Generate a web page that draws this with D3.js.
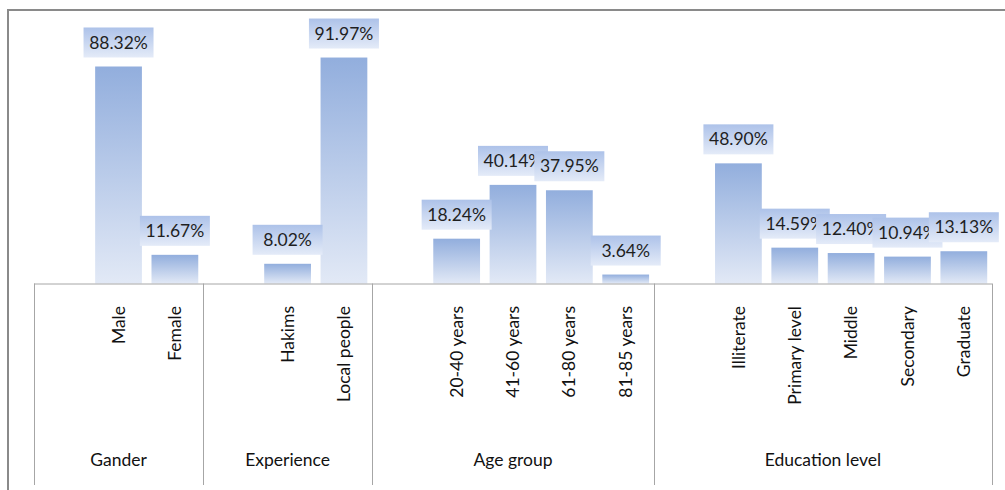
<!DOCTYPE html>
<html>
<head>
<meta charset="utf-8">
<script src="https://cdn.jsdelivr.net/npm/d3@7"></script>
<style>
html,body{margin:0;padding:0;background:#fff;}
svg{display:block;}
text{font-family:Lato,"Noto Sans",sans-serif;}
</style>
</head>
<body>
<svg id="chart" width="1005" height="490"></svg>
<script>
// ---- data ----
const groups = ["Gander", "Experience", "Age group", "Education level"];
const groupSizes = [2, 2, 4, 5];
const categories = ["Male", "Female", "Hakims", "Local people",
  "20-40 years", "41-60 years", "61-80 years", "81-85 years",
  "Illiterate", "Primary level", "Middle", "Secondary", "Graduate"];
const values = [88.32, 11.67, 8.02, 91.97, 18.24, 40.14, 37.95, 3.64,
  48.90, 14.59, 12.40, 10.94, 13.13];

// ---- build band domain: each group starts with an empty slot ----
const slots = [];
const items = [];
let ci = 0;
groups.forEach((g, gi) => {
  slots.push("__blank" + gi);
  for (let k = 0; k < groupSizes[gi]; k++) {
    slots.push(categories[ci]);
    items.push({cat: categories[ci], val: values[ci], group: gi});
    ci++;
  }
});

const svg = d3.select("#chart");
const left = 34, right = 992, base = 283.5, axisBottom = 485;

const x = d3.scaleBand().domain(slots).range([left, right])
  .paddingInner(0.17).paddingOuter(0.085);
const y = d3.scaleLinear().domain([0, 100]).range([base, 37.8]);
const step = x.step();
const slotStart = k => x(k) - x.paddingInner() * step / 2;

// gradients
const defs = svg.append("defs");
const gb = defs.append("linearGradient").attr("id", "barGrad")
  .attr("x1", 0).attr("y1", 0).attr("x2", 0).attr("y2", 1);
gb.append("stop").attr("offset", "0%").attr("stop-color", "#92aedd");
gb.append("stop").attr("offset", "100%").attr("stop-color", "#e2e9f6");
const gl = defs.append("linearGradient").attr("id", "lblGrad")
  .attr("x1", 0).attr("y1", 0).attr("x2", 0).attr("y2", 1);
gl.append("stop").attr("offset", "0%").attr("stop-color", "#adc2e9");
gl.append("stop").attr("offset", "100%").attr("stop-color", "#e4ebf8");

// outer frame (top and left visible)
svg.append("path").attr("d", "M8,490 L8,10 L1005,10")
  .attr("fill", "none").attr("stroke", "#8a8a8a").attr("stroke-width", 2);

// bars
svg.append("g").selectAll("rect").data(items).join("rect")
  .attr("x", d => x(d.cat))
  .attr("y", d => y(d.val))
  .attr("width", x.bandwidth())
  .attr("height", d => y(0) - y(d.val))
  .attr("fill", "url(#barGrad)");

// axis lines
const axis = svg.append("g").attr("stroke", "#a6a6a6").attr("stroke-width", 1).attr("fill", "none");
axis.append("line").attr("x1", left).attr("x2", right).attr("y1", base + 0.5).attr("y2", base + 0.5);
const bounds = groups.map((g, gi) => slotStart("__blank" + gi)).concat([right]);
bounds.forEach(bx => {
  axis.append("line").attr("x1", Math.round(bx) + 0.5).attr("x2", Math.round(bx) + 0.5)
    .attr("y1", base).attr("y2", axisBottom);
});

// data labels (drawn in order so later boxes overlap earlier ones)
const fmt = d3.format(".2f");
const lbl = svg.append("g");
items.forEach(d => {
  const cx = x(d.cat) + x.bandwidth() / 2;
  const by = y(d.val) - 9;
  const g = lbl.append("g");
  g.append("rect").attr("x", cx - 35).attr("y", by - 30).attr("width", 70).attr("height", 30)
    .attr("fill", "url(#lblGrad)");
  g.append("text").attr("x", cx).attr("y", by - 15).attr("dy", "0.35em")
    .attr("text-anchor", "middle").attr("font-size", 17.5).attr("fill", "#1f1f1f")
    .text(fmt(d.val) + "%");
});

// category labels (rotated)
svg.append("g").selectAll("text").data(items).join("text")
  .attr("transform", d => `translate(${x(d.cat) + x.bandwidth() / 2},306) rotate(-90)`)
  .attr("text-anchor", "end").attr("dy", "0.35em")
  .attr("font-size", 17.5).attr("fill", "#111")
  .text(d => d.cat);

// group labels
svg.append("g").selectAll("text").data(groups).join("text")
  .attr("x", (g, i) => (bounds[i] + bounds[i + 1]) / 2)
  .attr("y", 460).attr("dy", "0.35em")
  .attr("text-anchor", "middle").attr("font-size", 17.5).attr("fill", "#111")
  .text(g => g);
</script>
</body>
</html>
